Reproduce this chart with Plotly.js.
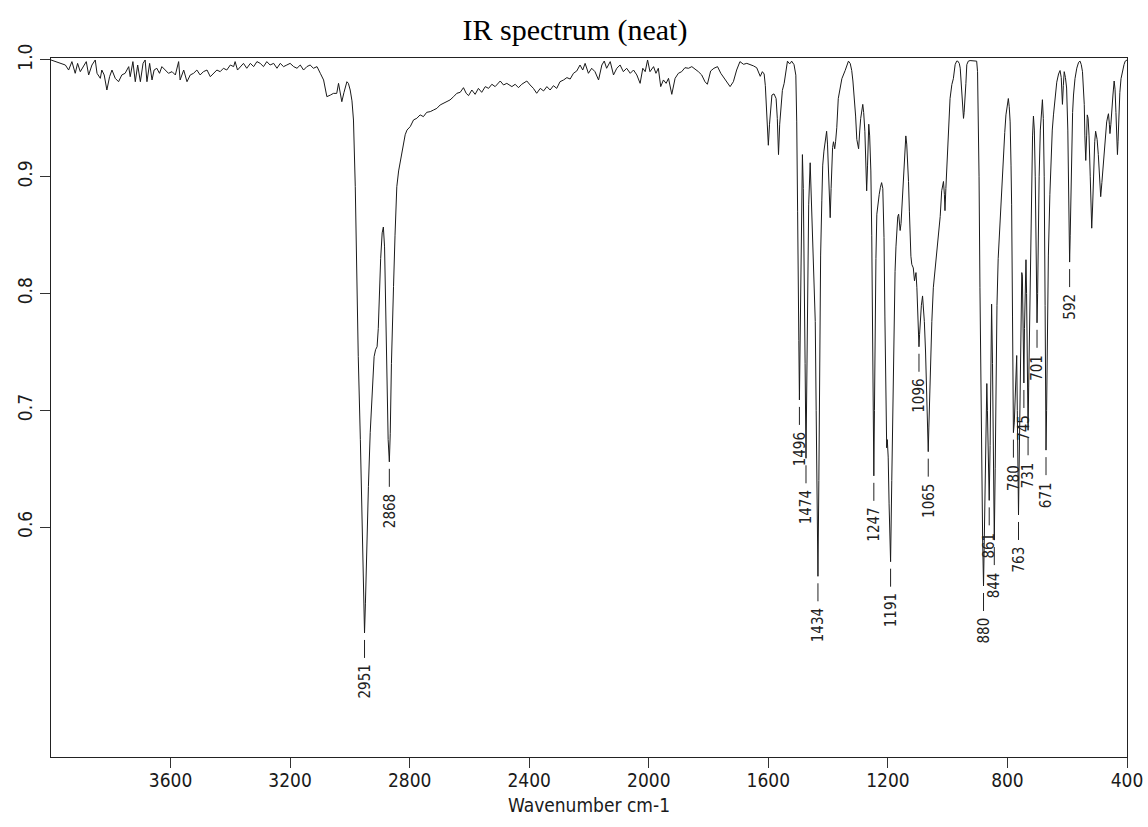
<!DOCTYPE html>
<html>
<head>
<meta charset="utf-8">
<script src="https://cdn.plot.ly/plotly-3.0.1.min.js"></script>
<style>
html,body{margin:0;padding:0;background:#ffffff;}
#chart{width:1148px;height:827px;}
</style>
</head>
<body>
<div id="chart"></div>
<script>
// ---------- DATA ----------
// [wavenumber cm-1, transmittance]
const baselineRegion = [
  [4000,1.0],[3986,0.9986],[3969,0.9971],[3952,0.9957],[3941,0.9914],[3930,0.9986],[3919,0.9886],[3911,0.9971],
  [3902,0.990],[3891,0.9943],[3882,0.9986],[3874,0.9872],[3863,0.9957],[3852,1.0],[3846,0.9886],[3835,0.9843],
  [3830,0.9914],[3822,0.9872],[3813,0.9743],[3804,0.9857],[3796,0.9914],[3785,0.9843],[3774,0.9814],[3763,0.9872],
  [3752,0.9886],[3740,0.9943],[3735,0.9857],[3726,0.9986],[3718,0.9814],[3710,0.9957],[3701,0.9814],[3692,0.9971],
  [3685,1.0],[3679,0.9814],[3670,0.9971],[3662,0.9829],[3655,0.9914],[3646,0.9929],[3637,0.9886],[3629,0.9943],
  [3618,0.9914],[3607,0.9886],[3595,0.990],[3584,0.9872],[3573,0.9986],[3568,0.9829],[3556,0.9914],[3545,0.9814],
  [3534,0.9872],[3523,0.9886],[3512,0.9914],[3501,0.9872],[3490,0.990],[3478,0.9914],[3467,0.9857],[3456,0.9886],
  [3445,0.9914],[3434,0.990],[3423,0.9929],[3412,0.9914],[3400,0.9957],[3389,0.9943],[3384,0.9986],[3376,0.9914],
  [3367,0.9943],[3356,0.9971],[3345,0.9929],[3333,0.9971],[3322,0.9943],[3311,0.9986],[3300,0.9971],[3289,0.9943],
  [3278,0.9986],[3267,0.9957],[3255,0.9971],[3244,0.9929],[3233,0.9971],[3222,0.9943],[3211,0.9957],[3200,0.9971],
  [3188,0.9943],[3177,0.9929],[3166,0.9957],[3155,0.9914],[3144,0.9943],[3133,0.9957],[3122,0.9929],[3110,0.9943],
  [3099,0.9886],[3088,0.9829]
];
const chStretchRegion = [
  [3077,0.9686],[3072,0.969],[3065,0.970],[3055,0.9714],[3044,0.9714],[3038,0.980],[3033,0.972],[3027,0.9643],
  [3020,0.972],[3010,0.9814],[3005,0.980],[2999,0.9743],[2993,0.965],[2988,0.9486],[2982,0.8916],[2977,0.8116],
  [2972,0.746],[2965,0.675],[2958,0.585],[2954,0.54],[2951,0.5095],[2948,0.535],[2945,0.569],[2938,0.635],
  [2932,0.681],[2925,0.713],[2919,0.746],[2914,0.752],[2909,0.7545],[2905,0.77],[2902,0.795],[2897,0.83],
  [2892,0.852],[2888,0.857],[2884,0.84],[2880,0.79],[2876,0.72],[2872,0.675],[2868,0.656],[2865,0.68],
  [2861,0.74],[2857,0.79],[2854,0.806],[2849,0.85],[2843,0.8915],[2837,0.905],[2832,0.912],[2826,0.922],
  [2821,0.930],[2815,0.936],[2809,0.940]
];
const midRegion = [
  [2798,0.943],[2787,0.9487],[2776,0.9501],[2765,0.953],[2754,0.9515],[2743,0.9552],[2731,0.9558],[2720,0.9572],
  [2709,0.9586],[2698,0.9615],[2687,0.9629],[2676,0.9649],[2665,0.9658],[2653,0.9686],[2642,0.9715],[2631,0.9723],
  [2620,0.9763],[2611,0.9715],[2603,0.9695],[2592,0.9743],[2581,0.9706],[2570,0.9757],[2559,0.9723],[2547,0.9772],
  [2536,0.9757],[2525,0.9792],[2514,0.9772],[2497,0.982],[2486,0.9786],[2475,0.980],[2458,0.9772],[2447,0.9792],
  [2436,0.9763],[2425,0.9792],[2408,0.982],[2397,0.9786],[2386,0.9757],[2375,0.9715],[2363,0.9757],[2352,0.9735],
  [2341,0.9772],[2330,0.9743],[2319,0.978],[2308,0.9757],[2297,0.9814],[2285,0.9829],[2274,0.9849],[2263,0.9837],
  [2252,0.9886],[2241,0.9906],[2230,0.9957],[2221,0.9914],[2213,0.9971],[2202,0.9886],[2191,0.9929],[2180,0.990],
  [2168,0.9829],[2157,0.9957],[2149,0.9991],[2141,0.9929],[2129,0.9986],[2118,0.9872],[2107,0.9929],[2096,0.9957],
  [2085,0.990],[2074,0.9929],[2062,0.9886],[2051,0.9914],[2040,0.9872],[2029,0.980],[2020,0.9929],[2012,0.990],
  [2004,1.0],[1996,0.990],[1984,0.9943],[1976,0.9886],[1968,0.9929],[1960,0.9772],[1951,0.9829],[1942,0.980],
  [1934,0.9843],[1923,0.9706],[1912,0.9843],[1901,0.9886],[1890,0.990],[1879,0.9934],[1867,0.9929],[1856,0.9943],
  [1845,0.9923],[1834,0.990],[1823,0.9872],[1812,0.9814],[1804,0.9792],[1793,0.9906],[1782,0.9929],[1770,0.9943],
  [1759,0.9886],[1748,0.9843],[1737,0.980],[1728,0.9772],[1717,0.9814],[1706,0.9914],[1695,0.9986],[1683,0.9963],
  [1672,0.9971],[1661,0.9963],[1650,0.995],[1639,0.9934],[1627,0.986],[1620,0.990],[1614,0.988],[1610,0.978],
  [1605,0.955],[1600,0.927],[1596,0.945],[1594,0.953],[1588,0.970],[1581,0.971],[1574,0.967],[1570,0.95],
  [1566,0.919],[1562,0.945]
];
const fingerprintRegion = [
  [1558,0.962],[1553,0.974],[1547,0.980],[1540,0.993],[1536,0.999],[1530,0.997],[1527,0.997],[1522,0.999],
  [1514,0.996],[1508,0.987],[1505,0.947],[1502,0.87],[1500,0.833],[1498,0.76],[1496,0.709],[1494,0.76],
  [1491,0.833],[1489,0.89],[1486,0.919],[1483,0.89],[1480,0.833],[1477,0.74],[1474,0.659],[1471,0.72],
  [1469,0.805],[1467,0.85],[1465,0.876],[1460,0.912],[1455,0.876],[1452,0.85],[1449,0.822],[1446,0.80],
  [1443,0.776],[1440,0.70],[1437,0.62],[1434,0.558],[1431,0.64],[1429,0.747],[1427,0.79],[1425,0.833],
  [1421,0.88],[1418,0.910],[1414,0.922],[1410,0.930],[1405,0.939],[1402,0.928],[1399,0.910],[1396,0.885],
  [1393,0.865],[1390,0.89],[1388,0.910],[1385,0.925],[1382,0.930],[1378,0.924],[1375,0.930],[1371,0.942],
  [1366,0.967],[1360,0.977],[1354,0.984],[1343,0.991],[1332,0.999],[1326,0.997],[1321,0.991],[1317,0.982],
  [1313,0.970],[1308,0.952],[1304,0.932],[1298,0.924],[1294,0.940],[1291,0.950],[1284,0.962],[1281,0.955],
  [1277,0.939],[1274,0.91],[1271,0.888],[1268,0.91],[1264,0.945],[1261,0.935],[1257,0.905],[1254,0.85],
  [1251,0.776],[1249,0.70],[1247,0.644],[1245,0.70],[1243,0.776],[1240,0.83],[1237,0.868],[1233,0.878],
  [1229,0.885],[1225,0.891],[1221,0.895],[1217,0.89],[1213,0.848],[1210,0.78],[1207,0.70],[1204,0.668],
  [1202,0.675],[1199,0.66],[1196,0.62],[1191,0.5705],[1187,0.64],[1184,0.70],[1181,0.747],[1179,0.78],
  [1176,0.819],[1173,0.84],[1170,0.857],[1167,0.866],[1164,0.868],[1161,0.86],[1159,0.854],[1156,0.86],
  [1153,0.875],[1150,0.890],[1146,0.915],[1142,0.935],[1140,0.935],[1137,0.928],[1134,0.915],[1131,0.896],
  [1128,0.87],[1126,0.845],[1123,0.832],[1120,0.825],[1115,0.822],[1111,0.811],[1108,0.818],[1106,0.818],
  [1103,0.805],[1100,0.78],[1098,0.762],[1096,0.7545],[1094,0.765],[1092,0.776],[1088,0.79],[1084,0.798],
  [1081,0.79],[1078,0.776],[1074,0.75],[1070,0.719],[1067,0.685],[1065,0.6647],[1063,0.685],[1060,0.72],
  [1056,0.755],[1053,0.776],[1048,0.805],[1044,0.815],[1040,0.825],[1035,0.835],[1031,0.845],[1025,0.866],
  [1020,0.888],[1014,0.896],[1011,0.885],[1009,0.871],[1006,0.89],[1003,0.905],[998,0.94],[992,0.967],
  [986,0.979],[981,0.984],[975,0.996],[970,0.999],[966,0.999],[961,0.997],[958,0.993],[956,0.985],
  [953,0.964],[950,0.955],[947,0.950],[945,0.955],[942,0.964],[939,0.98],[936,0.996],[931,0.999],
  [925,0.9995],[915,0.999],[908,0.999],[903,0.999],[900,0.99],[897,0.947],[895,0.90],[892,0.805],
  [889,0.72],[886,0.65],[883,0.59],[880,0.5497],[877,0.60],[874,0.67],[871,0.71],[869,0.723],
  [867,0.70],[864,0.66],[861,0.623],[858,0.67],[855,0.74],[853,0.791],[850,0.74],[847,0.65],
  [844,0.589],[841,0.65],[838,0.73],[835,0.79],[831,0.83],[825,0.862],[820,0.89],[814,0.919],
  [809,0.938],[805,0.953],[800,0.963],[797,0.967],[794,0.960],[791,0.947],[788,0.91],[786,0.876],
  [783,0.78],[780,0.681],[777,0.69],[774,0.72],[771,0.745],[769,0.747],[767,0.70],[765,0.65],
  [763,0.6105],[761,0.65],[758,0.72],[755,0.78],[752,0.818],[750,0.815],[748,0.77],[745,0.7235],
  [743,0.77],[740,0.815],[738,0.829],[736,0.80],[734,0.74],[731,0.683],[729,0.72],[726,0.78],
  [723,0.84],[720,0.89],[716,0.935],[713,0.952],[710,0.94],[707,0.90],[704,0.83],[701,0.775],
  [699,0.80],[697,0.85],[694,0.90],[690,0.94],[686,0.96],[683,0.966],[680,0.95],[677,0.90],
  [674,0.79],[671,0.666],[669,0.70],[667,0.76],[663,0.833],[658,0.885],[654,0.919],[650,0.94],
  [646,0.953],[640,0.970],[635,0.981],[629,0.988],[624,0.991],[620,0.985],[616,0.962],[613,0.978],
  [610,0.990],[606,0.985],[602,0.976],[598,0.94],[596,0.88],[594,0.84],[592,0.827],[590,0.85],
  [588,0.88],[585,0.919],[582,0.955],[579,0.970],[574,0.984],[568,0.993],[562,0.998],[557,0.999],
  [553,0.996],[549,0.990],[546,0.98],[543,0.962],[541,0.935],[538,0.914],[535,0.935],[533,0.953],
  [530,0.95],[527,0.935],[523,0.90],[520,0.868],[518,0.856],[515,0.875],[511,0.91],[508,0.93],
  [505,0.939],[500,0.932],[496,0.919],[492,0.90],[488,0.883],[484,0.895],[480,0.91],[476,0.925],
  [472,0.937],[468,0.947],[464,0.952],[462,0.954],[459,0.945],[457,0.937],[454,0.945],[451,0.953],
  [447,0.97],[443,0.982],[440,0.975],[437,0.955],[434,0.93],[432,0.919],[430,0.93],[427,0.955],
  [424,0.972],[420,0.984],[416,0.99],[410,0.996],[406,0.999],[402,1.0],[400,1.0]
];

// labelled peaks
const peakLabels = ['2951','2868','1496','1474','1434','1247','1191','1096','1065','880','861','844','780','763','745','731','701','671','592'];
const peakWavenumbers = [2951,2868,1496,1474,1434,1247,1191,1096,1065,880,861,844,780,763,745,731,701,671,592];
const peakTransmittance = [0.5095,0.656,0.709,0.659,0.558,0.644,0.5705,0.7545,0.6647,0.5497,0.623,0.589,0.681,0.6105,0.7235,0.683,0.775,0.666,0.827];

// axes
const xTickVals = [3600,3200,2800,2400,2000,1600,1200,800,400];
const yTickVals = [0.6,0.7,0.8,0.9,1.0];
const yTickText = ['0.6','0.7','0.8','0.9','1.0'];
const chartTitle = 'IR spectrum (neat)';
const xTitle = 'Wavenumber cm-1';

// ---------- font choice ----------
function fontAvailable(name){
  const ctx = document.createElement('canvas').getContext('2d');
  const s = 'Wavenumber 0123456789 mmmwwwiii';
  ctx.font = '40px monospace'; const a = ctx.measureText(s).width;
  ctx.font = '40px "' + name + '", monospace'; const b = ctx.measureText(s).width;
  return Math.abs(a - b) > 0.5;
}
let SANS, base;
if (fontAvailable('Liberation Sans Narrow')) { SANS = '"Liberation Sans Narrow", "Liberation Sans", Arial, sans-serif'; base = 22; }
else if (fontAvailable('DejaVu Sans Condensed')) { SANS = '"DejaVu Sans Condensed", "Liberation Sans", sans-serif'; base = 19; }
else { SANS = '"Liberation Sans", Arial, sans-serif'; base = 18.5; }
const SERIF = '"Liberation Serif", "Times New Roman", serif';

// ---------- build ----------
const spectrum = baselineRegion.concat(chStretchRegion, midRegion, fingerprintRegion);
const trace = {
  type: 'scatter', mode: 'lines',
  x: spectrum.map(p => p[0]),
  y: spectrum.map(p => p[1]),
  line: {color: '#1a1a1a', width: 1},
  hoverinfo: 'x+y'
};

const shapes = peakWavenumbers.map((w, i) => ({
  type: 'line', xref: 'x', yref: 'y', x0: w, x1: w,
  ysizemode: 'pixel', yanchor: peakTransmittance[i], y0: -7, y1: -25,
  line: {color: '#222', width: 1}
}));
const annotations = peakWavenumbers.map((w, i) => ({
  x: w, y: peakTransmittance[i], xref: 'x', yref: 'y',
  text: peakLabels[i], showarrow: false, textangle: -90,
  xanchor: 'center', yanchor: 'top', yshift: -31, borderpad: 0,
  font: {family: SANS, size: Math.round(base * 0.8), color: '#222'}
}));

const layout = {
  width: 1148, height: 827,
  margin: {l: 51, r: 21, t: 58, b: 70, pad: 0},
  paper_bgcolor: '#ffffff', plot_bgcolor: '#ffffff',
  showlegend: false,
  title: {
    text: chartTitle,
    font: {family: SERIF, size: 30, color: '#000'},
    x: 575 / 1148, xref: 'container', xanchor: 'center',
    y: 1 - 29 / 827, yref: 'container', yanchor: 'middle'
  },
  xaxis: {
    range: [4000, 400], tickmode: 'array', tickvals: xTickVals, ticktext: xTickVals.map(String),
    ticks: 'outside', ticklen: 10, tickwidth: 1, tickcolor: '#333',
    showline: true, mirror: true, linecolor: '#222', linewidth: 1,
    showgrid: false, zeroline: false, automargin: false,
    ticklabelstandoff: -4,
    tickfont: {family: SANS, size: base, color: '#1a1a1a'},
    title: {text: xTitle, font: {family: SANS, size: base, color: '#1a1a1a'}, standoff: 8}
  },
  yaxis: {
    range: [0.4033, 1.0017], tickmode: 'array', tickvals: yTickVals, ticktext: yTickText,
    tickangle: -90, ticks: 'outside', ticklen: 10, tickwidth: 1, tickcolor: '#333',
    showline: true, mirror: true, linecolor: '#222', linewidth: 1,
    showgrid: false, zeroline: false, automargin: false,
    tickfont: {family: SANS, size: base, color: '#1a1a1a'}
  },
  shapes: shapes,
  annotations: annotations
};

Plotly.newPlot('chart', [trace], layout, {displayModeBar: false, staticPlot: false, responsive: false});
</script>
</body>
</html>
